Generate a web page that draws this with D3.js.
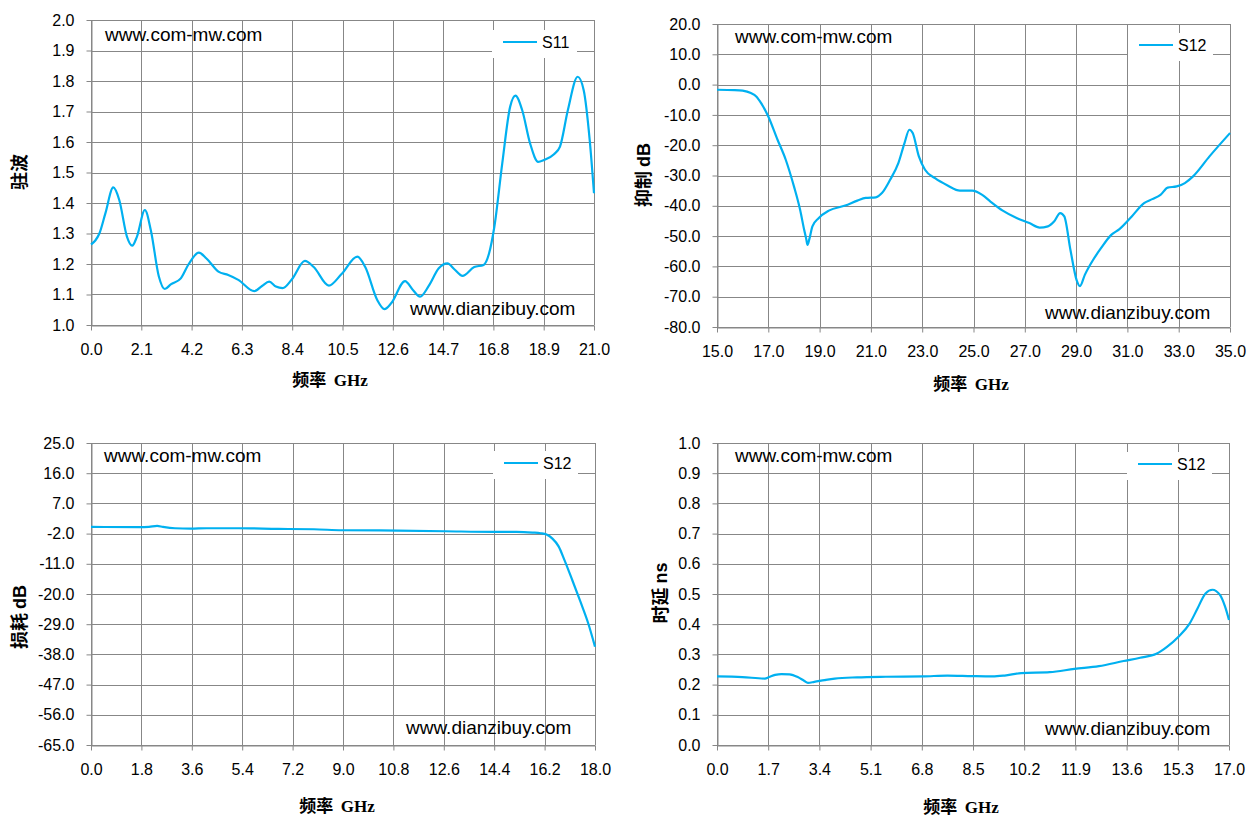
<!DOCTYPE html>
<html lang="zh">
<head>
<meta charset="utf-8">
<title>filter test curves</title>
<script src="https://d3js.org/d3.v7.min.js"></script>
<style>
body{margin:0;background:#fff;}
svg text{font-family:"Liberation Sans",Arial,sans-serif;}
.tick text{font-size:16px;fill:#000;}
.grid{stroke:#878787;stroke-width:1;}
.axis path,.axis line{stroke:#878787;}
.cn{font-family:"Noto Sans CJK SC",sans-serif;font-weight:bold;}
</style>
</head>
<body>
<div id="chart"></div>
<script>
// panel 1 : S11 standing wave ratio
var vswrFreq = [0, 0.18, 0.35, 0.6, 0.93, 1.18, 1.5, 1.72, 1.92, 2.25, 2.5, 2.83, 3.08, 3.33, 3.75, 4.08, 4.5, 4.82, 5.32, 5.73, 6.15, 6.82, 7.14, 7.44, 7.72, 8.0, 8.39, 8.93, 9.3, 9.93, 10.46, 11.12, 11.45, 11.95, 12.25, 12.53, 13.11, 13.44, 13.74, 14.1, 14.52, 14.88, 15.18, 15.51, 16.0, 16.39, 16.62, 16.84, 17.17, 17.5, 17.72, 18.0, 18.33, 18.67, 18.91, 19.33, 19.58, 19.91, 20.32, 20.57, 20.82, 21.0]
var vswrVal = [1.264, 1.277, 1.30, 1.366, 1.451, 1.41, 1.29, 1.26, 1.29, 1.377, 1.31, 1.16, 1.118, 1.133, 1.153, 1.20, 1.237, 1.218, 1.175, 1.164, 1.148, 1.111, 1.128, 1.142, 1.126, 1.121, 1.15, 1.21, 1.19, 1.129, 1.167, 1.224, 1.19, 1.082, 1.052, 1.071, 1.144, 1.115, 1.093, 1.128, 1.186, 1.202, 1.182, 1.161, 1.19, 1.197, 1.235, 1.322, 1.53, 1.716, 1.752, 1.705, 1.596, 1.535, 1.541, 1.56, 1.585, 1.705, 1.814, 1.77, 1.607, 1.432]
var vswrXTicks = [0.0, 2.1, 4.2, 6.3, 8.4, 10.5, 12.6, 14.7, 16.8, 18.9, 21.0]
var vswrYTicks = [1.0, 1.1, 1.2, 1.3, 1.4, 1.5, 1.6, 1.7, 1.8, 1.9, 2.0]

// panel 2 : rejection
var rejFreq = [15, 15.69, 16.0, 16.32, 16.53, 16.72, 17.0, 17.36, 17.68, 18.0, 18.24, 18.4, 18.48, 18.53, 18.6, 18.72, 18.96, 19.36, 20.0, 20.47, 20.8, 21.19, 21.43, 21.75, 22.07, 22.31, 22.5, 22.63, 22.87, 23.11, 23.5, 23.99, 24.47, 24.95, 25.34, 25.66, 26.14, 26.7, 27.18, 27.58, 27.9, 28.14, 28.38, 28.54, 28.78, 29.02, 29.15, 29.34, 29.66, 29.97, 30.37, 30.69, 31.17, 31.65, 31.97, 32.29, 32.57, 32.92, 33.24, 33.56, 34.2, 35.0]
var rejVal = [-1.7, -1.8, -2.0, -2.8, -3.9, -6.1, -10.5, -18.2, -24.8, -33.6, -41.3, -48.0, -51.0, -52.9, -51.0, -46.8, -44.1, -41.6, -39.9, -38.3, -37.4, -37.2, -35.8, -31.4, -25.9, -19.3, -14.9, -16.0, -23.7, -28.1, -30.9, -33.3, -35.0, -35.0, -36.4, -38.6, -41.6, -44.1, -45.7, -47.2, -46.8, -45.2, -42.4, -43.5, -54.6, -64.5, -66.5, -62.8, -57.9, -54.0, -49.6, -47.7, -43.5, -39.1, -37.8, -36.4, -34.0, -33.6, -32.5, -30.3, -23.7, -16.0]
var rejXTicks = [15.0, 17.0, 19.0, 21.0, 23.0, 25.0, 27.0, 29.0, 31.0, 33.0, 35.0]
var rejYTicks = [-80.0, -70.0, -60.0, -50.0, -40.0, -30.0, -20.0, -10.0, 0.0, 10.0, 20.0]

// panel 3 : insertion loss
var lossFreq = [0, 1.72, 2.07, 2.36, 2.57, 3.0, 3.56, 4.13, 5.27, 6.69, 7.96, 8.96, 10.95, 12.65, 14.35, 15.2, 15.77, 16.06, 16.27, 16.48, 16.7, 16.91, 17.19, 17.48, 17.76, 18.0]
var lossVal = [0.0, -0.1, 0.0, 0.3, 0.0, -0.4, -0.5, -0.4, -0.4, -0.6, -0.7, -1.0, -1.1, -1.3, -1.5, -1.5, -1.7, -1.9, -2.3, -3.5, -5.8, -9.9, -15.9, -22.3, -28.8, -35.7]
var lossXTicks = [0.0, 1.8, 3.6, 5.4, 7.2, 9.0, 10.8, 12.6, 14.4, 16.2, 18.0]
var lossYTicks = [-65.0, -56.0, -47.0, -38.0, -29.0, -20.0, -11.0, -2.0, 7.0, 16.0, 25.0]

// panel 4 : group delay
var delayFreq = [0, 0.84, 1.59, 1.73, 1.93, 2.14, 2.41, 2.68, 2.89, 3.02, 3.23, 3.57, 3.91, 4.65, 5.61, 6.83, 7.65, 8.47, 9.15, 9.55, 10.1, 11.05, 11.87, 12.68, 13.5, 14.05, 14.59, 14.93, 15.34, 15.68, 15.95, 16.22, 16.45, 16.7, 16.87, 17.0]
var delayVal = [0.227, 0.225, 0.220, 0.225, 0.232, 0.235, 0.234, 0.225, 0.213, 0.206, 0.209, 0.215, 0.220, 0.224, 0.226, 0.227, 0.230, 0.228, 0.227, 0.230, 0.238, 0.241, 0.252, 0.261, 0.278, 0.289, 0.302, 0.324, 0.360, 0.40, 0.451, 0.502, 0.514, 0.497, 0.458, 0.414]
var delayXTicks = [0.0, 1.7, 3.4, 5.1, 6.8, 8.5, 10.2, 11.9, 13.6, 15.3, 17.0]
var delayYTicks = [0.0, 0.1, 0.2, 0.3, 0.4, 0.5, 0.6, 0.7, 0.8, 0.9, 1.0]

var svg = d3.select("#chart").append("svg")
    .attr("width", 1259)
    .attr("height", 828)

var panels = [
    {freq: vswrFreq, val: vswrVal, xt: vswrXTicks, yt: vswrYTicks, name: "S11",
     left: 91, right: 594, top: 20, bottom: 325, ycn: "驻波", yen: "", ytx: 20, yty: 172,
     xtx: 330, xty: 386, wm1: [105, 41], wm2: [410, 315], legY: 42},
    {freq: rejFreq, val: rejVal, xt: rejXTicks, yt: rejYTicks, name: "S12",
     left: 717, right: 1230, top: 24, bottom: 327, ycn: "抑制 ", yen: "dB", ytx: 644, yty: 175,
     xtx: 971, xty: 390, wm1: [735, 43], wm2: [1045, 319], legY: 45},
    {freq: lossFreq, val: lossVal, xt: lossXTicks, yt: lossYTicks, name: "S12",
     left: 91, right: 595, top: 443, bottom: 745, ycn: "损耗 ", yen: "dB", ytx: 20, yty: 617,
     xtx: 337, xty: 812, wm1: [104, 462], wm2: [406, 734], legY: 463},
    {freq: delayFreq, val: delayVal, xt: delayXTicks, yt: delayYTicks, name: "S12",
     left: 717, right: 1229, top: 443, bottom: 745, ycn: "时延 ", yen: "ns", ytx: 661, yty: 593,
     xtx: 961, xty: 813, wm1: [735, 462], wm2: [1045, 735], legY: 464}
]

panels.forEach(drawPanel)

function drawPanel(p){
    var g = svg.append("g")
    var x = d3.scaleLinear().domain([p.xt[0], p.xt[p.xt.length-1]]).range([p.left, p.right])
    var y = d3.scaleLinear().domain([p.yt[0], p.yt[p.yt.length-1]]).range([p.bottom, p.top])
    var fmt = function(d){ return d.toFixed(1) }

    // gridlines
    g.selectAll(".hgrid").data(p.yt).enter().append("line")
        .attr("class", "grid")
        .attr("x1", p.left).attr("x2", p.right)
        .attr("y1", function(d){ return Math.round(y(d))+0.5 })
        .attr("y2", function(d){ return Math.round(y(d))+0.5 })
    g.selectAll(".vgrid").data(p.xt).enter().append("line")
        .attr("class", "grid")
        .attr("y1", p.top).attr("y2", p.bottom)
        .attr("x1", function(d){ return Math.round(x(d))+0.5 })
        .attr("x2", function(d){ return Math.round(x(d))+0.5 })

    // axes
    g.append("g").attr("class", "axis")
        .attr("transform", "translate(" + (Math.round(p.left)+0.5) + ",0)")
        .call(d3.axisLeft(y).tickValues(p.yt).tickFormat(fmt).tickSize(5).tickSizeOuter(0).tickPadding(12))
    g.append("g").attr("class", "axis")
        .attr("transform", "translate(0," + (Math.round(p.bottom)+0.5) + ")")
        .call(d3.axisBottom(x).tickValues(p.xt).tickFormat(fmt).tickSize(5).tickSizeOuter(0).tickPadding(13))
    g.selectAll(".axis .tick text").attr("font-family", "Liberation Sans, Arial, sans-serif")

    // watermarks
    g.append("text").attr("x", p.wm1[0]).attr("y", p.wm1[1])
        .attr("font-size", 19).text("www.com-mw.com")
    g.append("text").attr("x", p.wm2[0]).attr("y", p.wm2[1])
        .attr("font-size", 19).text("www.dianzibuy.com")

    // the curve
    var line = d3.line()
        .x(function(d){ return x(d[0]) })
        .y(function(d){ return y(d[1]) })
        .curve(d3.curveMonotoneX)
    g.append("path")
        .datum(p.freq.map(function(f, i){ return [f, p.val[i]] }))
        .attr("d", line)
        .attr("fill", "none")
        .attr("stroke", "#00B0F0")
        .attr("stroke-width", 2.2)

    // legend
    var lx = p.right - 102
    g.append("rect").attr("x", lx).attr("y", p.legY - 12)
        .attr("width", 85).attr("height", 28).attr("fill", "#fff")
    g.append("line").attr("x1", lx + 11).attr("x2", lx + 45)
        .attr("y1", p.legY).attr("y2", p.legY)
        .attr("stroke", "#00B0F0").attr("stroke-width", 2.2)
    g.append("text").attr("x", lx + 50).attr("y", p.legY + 6)
        .attr("font-size", 16).text(p.name)

    // axis titles
    var yt = g.append("text")
        .attr("transform", "translate(" + p.ytx + "," + p.yty + ") rotate(-90)")
        .attr("text-anchor", "middle").attr("dy", "0.35em")
        .attr("font-size", 18)
    yt.append("tspan").attr("class", "cn").text(p.ycn)
    yt.append("tspan").attr("font-weight", "bold").text(p.yen)

    var xt = g.append("text")
        .attr("x", p.xtx).attr("y", p.xty)
        .attr("text-anchor", "middle").attr("font-size", 17)
    xt.append("tspan").attr("class", "cn").text("频率\u00a0\u00a0")
    xt.append("tspan").attr("font-weight", "bold")
        .attr("font-family", "Liberation Serif, serif").text("GHz")
}
</script>
</body>
</html>
